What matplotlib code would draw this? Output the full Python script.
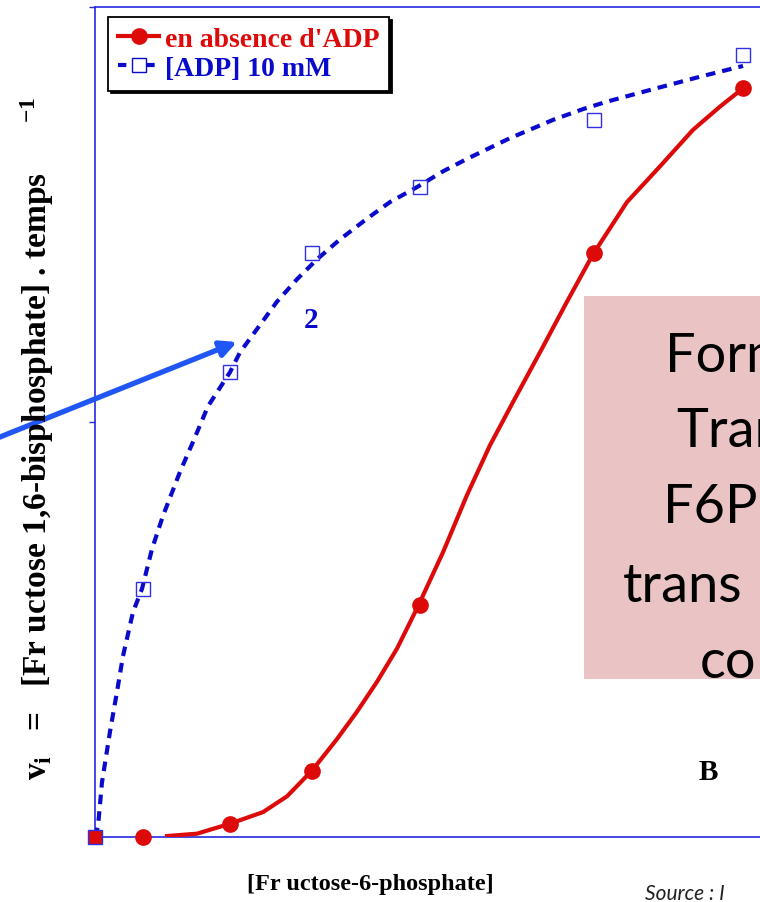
import numpy as np
import matplotlib
matplotlib.use("Agg")
import matplotlib.pyplot as plt
from matplotlib.lines import Line2D
from matplotlib.patches import Rectangle

plt.rcParams.update({
    "font.family": ["Liberation Serif", "DejaVu Serif"],
    "font.weight": "bold",
    "mathtext.fontset": "custom",
    "mathtext.rm": "Liberation Serif:bold",
    "mathtext.it": "Liberation Serif:bold",
})

# measured points (x = [F6P], y = v_i, both arbitrary units)
PT_X = [0.0, 0.48, 1.35, 2.17, 3.25, 4.99, 6.48]
RED_Y = [0.0, 0.0, 0.016, 0.080, 0.280, 0.704, 0.902]
BLUE_Y = [0.0, 0.299, 0.560, 0.704, 0.783, 0.864, 0.942]

# fitted curves
BLUE_CX = [0.0, 0.03, 0.07, 0.15, 0.22, 0.28, 0.38, 0.47, 0.57, 0.68, 0.85,
           0.98, 1.13, 1.35, 1.45, 1.62, 1.82, 2.02, 2.22, 2.45, 2.72, 2.95,
           3.22, 3.48, 3.72, 4.15, 4.58, 4.88, 5.12, 5.58, 6.05, 6.48]
BLUE_CY = [0.0, 0.013, 0.066, 0.127, 0.175, 0.218, 0.271, 0.299, 0.347,
           0.387, 0.440, 0.476, 0.519, 0.560, 0.584, 0.612, 0.645, 0.672,
           0.696, 0.720, 0.745, 0.765, 0.783, 0.802, 0.817, 0.842, 0.864,
           0.877, 0.886, 0.901, 0.916, 0.929]
RED_CX = [0.70, 1.02, 1.35, 1.68, 1.92, 2.17, 2.42, 2.62, 2.82, 3.02, 3.23,
          3.48, 3.72, 3.95, 4.18, 4.45, 4.72, 4.98, 5.32, 5.65, 5.98, 6.25,
          6.48]
RED_CY = [0.001, 0.004, 0.016, 0.030, 0.049, 0.080, 0.118, 0.151, 0.187,
          0.227, 0.278, 0.343, 0.412, 0.472, 0.524, 0.584, 0.645, 0.702,
          0.765, 0.808, 0.852, 0.880, 0.902]

LEGEND_LABELS = ["en absence d'ADP", "[ADP] 10 mM"]
BOX_LINES = ["Form", "Tran", "F6P", "trans", "co"]

RED = "#dd0a0a"
BLUE = "#0a0acc"
AXBLUE = "#2828e0"
ARROW = "#1f56f5"

W, H = 760, 903


def fx(px):
    return px / W


def fy(py):
    return 1 - py / H


fig = plt.figure(figsize=(W / 100, H / 100), dpi=100)
ax = fig.add_axes([fx(95), 65 / H, 665 / W, 830 / H])
ax.set_xlim(0, 6.65)
ax.set_ylim(0, 1)

ax.plot(RED_CX, RED_CY, color=RED, lw=3, solid_capstyle="butt", zorder=3)
ax.plot(PT_X[1:], RED_Y[1:], "o", color=RED, ms=11, zorder=4, clip_on=False)
ax.plot(BLUE_CX, BLUE_CY, color=BLUE, lw=3, ls=(0, (2.3, 1.7)),
        dash_capstyle="butt", zorder=3)
ax.plot(PT_X[1:], BLUE_Y[1:], "s", mfc="none", mec="#3030e8", ms=10.5,
        mew=1.0, zorder=4, clip_on=False)
# shared origin point
ax.plot(PT_X[0], BLUE_Y[0], "s", mfc=RED, mec="#3030e8", ms=10.5, mew=1.0,
        zorder=5, clip_on=False)

for side in ["left", "bottom", "top"]:
    ax.spines[side].set_color(AXBLUE)
    ax.spines[side].set_linewidth(1.2)
ax.spines["right"].set_visible(False)
ax.set_xticks([0])
ax.set_yticks([0, 0.5, 1.0])
ax.set_xticklabels([])
ax.set_yticklabels([])
ax.tick_params(direction="out", length=4, width=1, color=AXBLUE)

handles = [
    Line2D([], [], color=RED, lw=3, marker="o", ms=11),
    Line2D([], [], color=BLUE, lw=3, ls=(0, (2, 1.4)), marker="s",
           mfc="white", mec=BLUE, ms=10, mew=1.0),
]
leg = ax.legend(handles, LEGEND_LABELS, loc="upper left",
                bbox_to_anchor=(fx(108), fy(18)), bbox_transform=fig.transFigure,
                prop={"family": "Liberation Serif", "weight": "bold", "size": 20},
                frameon=True, fancybox=False, shadow={"color": "black", "alpha": 1},
                edgecolor="black", framealpha=1, borderpad=0.35,
                handlelength=1.5, handletextpad=0.2, labelspacing=0.12,
                borderaxespad=0)
leg.get_frame().set_linewidth(1.3)
for txt, c in zip(leg.get_texts(), [RED, BLUE]):
    txt.set_color(c)

# pink annotation box (cropped on the right)
fig.patches.append(Rectangle((fx(584), fy(680)), fx(800) - fx(584),
                             fy(297) - fy(680), transform=fig.transFigure,
                             facecolor="#eac4c4", edgecolor="none", zorder=1))
box_x = [665, 676, 663, 623, 700]
box_y = [372, 447, 523, 602, 678]
for s, bx, by in zip(BOX_LINES, box_x, box_y):
    fig.text(fx(bx), fy(by), s, family="Lato", weight="normal", fontsize=39,
             color="black", ha="left", va="baseline", zorder=2)

fig.text(fx(311), fy(321), "2", color=BLUE, fontsize=21, ha="center",
         va="center")
fig.text(fx(708), fy(773), "B", color="black", fontsize=21, ha="center",
         va="center")

fig.text(fx(37), fy(438),
         "v$_{\\mathrm{i}}$   =   [Fr uctose 1,6-bisphosphate] . temps      $^{\\mathrm{-1}}$",
         rotation=90, fontsize=24, ha="center", va="center")
fig.text(fx(370), fy(885), "[Fr uctose-6-phosphate]", fontsize=17.5,
         ha="center", va="center")
fig.text(fx(645), fy(884), "Source : I", family="Lato", style="italic",
         weight="normal", fontsize=15, color="#222222", ha="left", va="top")

ax.annotate("", xy=(fx(237), fy(343)), xytext=(fx(-10), fy(442)),
            xycoords="figure fraction", textcoords="figure fraction",
            arrowprops=dict(arrowstyle="-|>", lw=3.8, color=ARROW,
                            mutation_scale=24, shrinkA=0, shrinkB=0),
            annotation_clip=False, zorder=10)

fig.savefig("out.png", dpi=100)
